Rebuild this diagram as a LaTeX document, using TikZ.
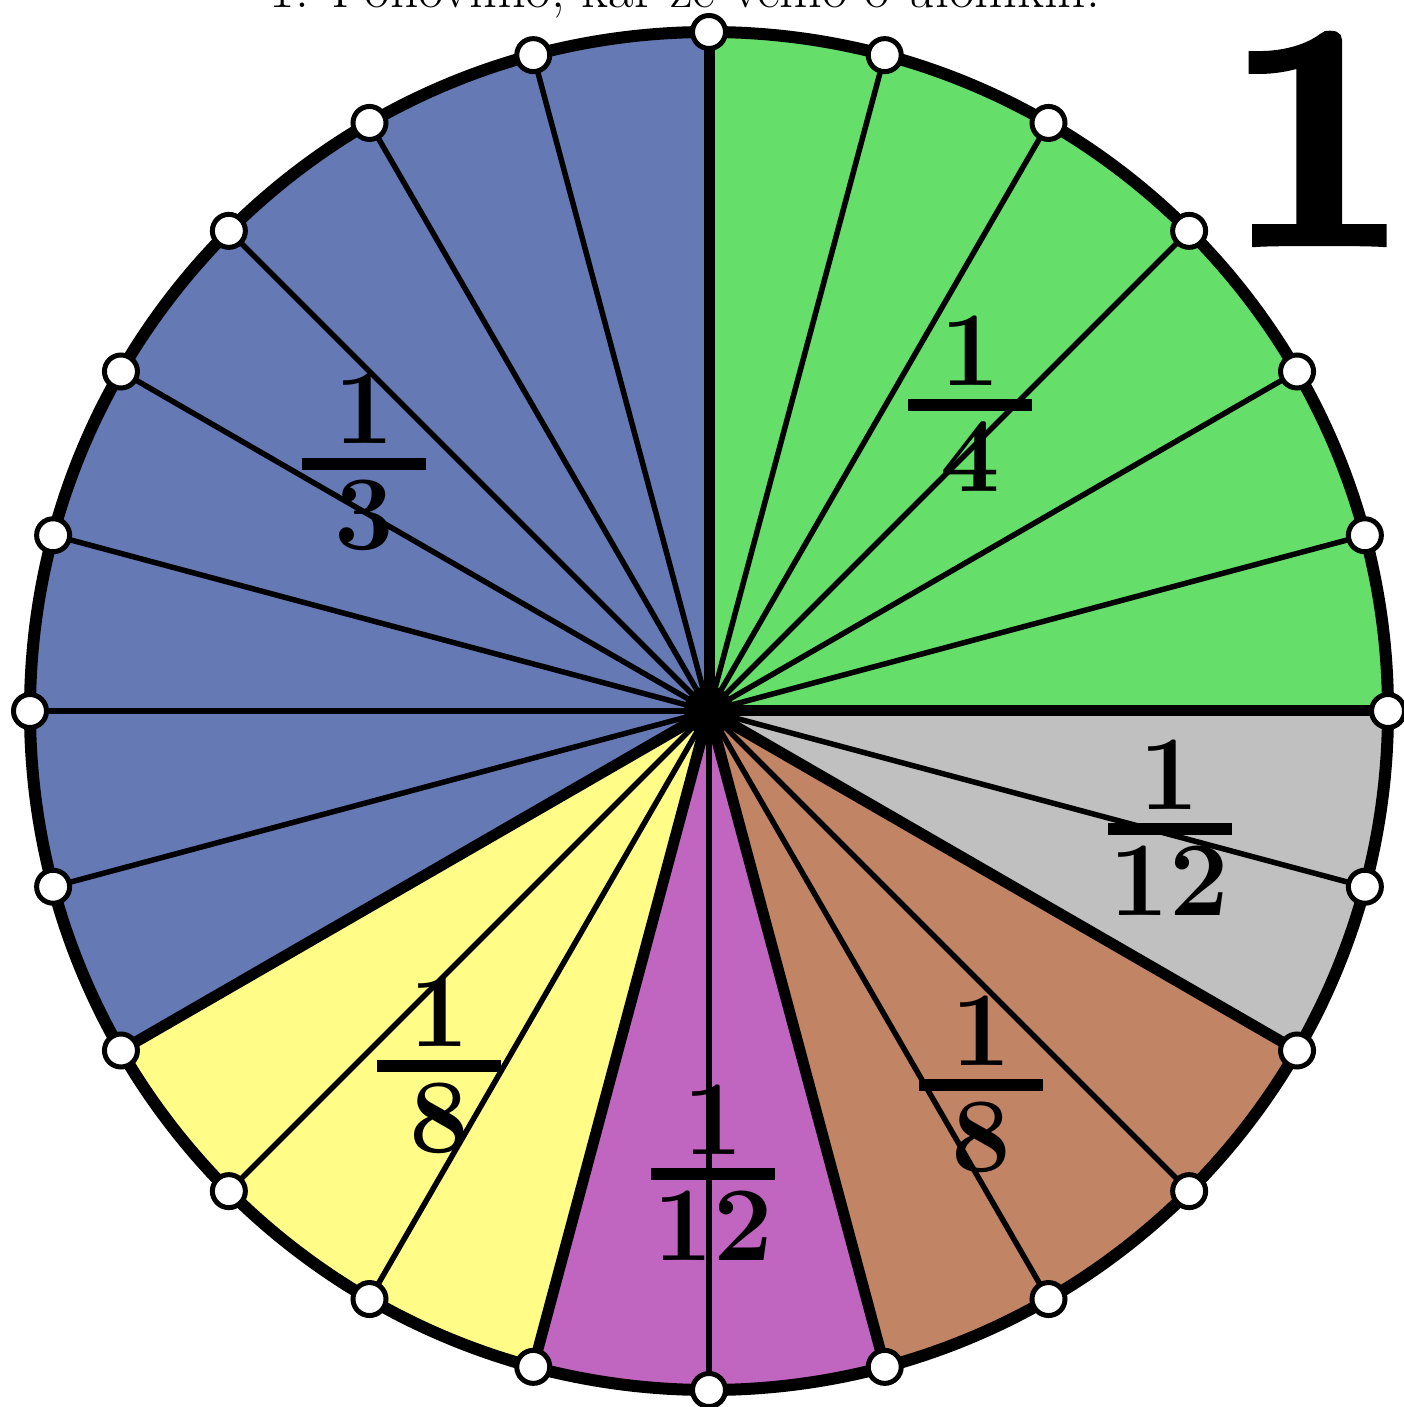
\documentclass[tikz,border=0pt]{standalone}
\usepackage{fontspec}
\newfontfamily\heavyone{lmroman10-bold.otf}[FakeBold=2.5]
\definecolor{cblue}{RGB}{101,121,180}
\definecolor{cgreen}{RGB}{102,222,106}
\definecolor{cgray}{RGB}{192,192,192}
\definecolor{cbrown}{RGB}{193,133,101}
\definecolor{cpurple}{RGB}{193,102,192}
\definecolor{cyellow}{RGB}{255,252,136}
\tikzset{
  thinray/.style={line width=2.75pt},
  thickray/.style={line width=5.5pt},
  rimdot/.style={circle, draw=black, fill=white, line width=2.5pt, minimum size=16.5pt, inner sep=0pt},
  fracdigit/.style={font=\fontsize{53}{53}\selectfont\bfseries, inner sep=0pt, anchor=base},
  fracbar/.style={fill=black, minimum width=62pt, minimum height=6pt, inner sep=0pt},
}
\newcommand\fracset[5]{%
  \node[fracbar] (#1bar) at (#2,#3) {};
  \node[fracdigit] (#1num) at (#2,{#3+20}) {#4};
  \node[fracdigit] (#1den) at (#2,{#3-86}) {#5};
}
\begin{document}
\begin{tikzpicture}[x=0.5pt,y=0.5pt]
\useasboundingbox (-709,-696) rectangle (694,711);
% sectors
\fill[cblue] (0,0) -- (90:679) arc[start angle=90, end angle=210, radius=679] -- cycle;
\fill[cgreen] (0,0) -- (0:679) arc[start angle=0, end angle=90, radius=679] -- cycle;
\fill[cgray] (0,0) -- (-30:679) arc[start angle=-30, end angle=0, radius=679] -- cycle;
\fill[cbrown] (0,0) -- (-75:679) arc[start angle=-75, end angle=-30, radius=679] -- cycle;
\fill[cpurple] (0,0) -- (-105:679) arc[start angle=-105, end angle=-75, radius=679] -- cycle;
\fill[cyellow] (0,0) -- (-150:679) arc[start angle=-150, end angle=-105, radius=679] -- cycle;
% points on the rim
\foreach \i in {0,...,23} \coordinate (p\i) at ({\i*15}:679);
\coordinate (o) at (0,0);
% rays
\foreach \i in {1,2,3,4,5,7,8,9,10,11,12,13,15,16,18,20,21,23}
  \draw[thinray] (o) -- (p\i);
\foreach \i in {0,6,14,17,19,22}
  \draw[thickray] (o) -- (p\i);
\node[circle, fill=black, minimum size=25pt, inner sep=0pt] (c) at (o) {};
% rim
\draw[line width=6pt] (o) circle[radius=679];
\foreach \i in {0,...,23} \node[rimdot] (d\i) at (p\i) {};
% fractions
\fracset{a}{-345}{247}{1}{3}
\fracset{b}{261}{305.5}{1}{4}
\fracset{g}{460.5}{-118}{1}{12}
\fracset{y}{-270}{-355}{1}{8}
\fracset{p}{4}{-463}{1}{12}
\fracset{r}{272}{-374}{1}{8}
% big one
\node[font=\fontsize{159}{159}\selectfont\heavyone, inner sep=0pt, anchor=base] (one) at (608,468) {1};
% title (cut off at top)
\node[inner sep=0pt, anchor=base] (title) at (-24,703) {\resizebox{415pt}{!}{\fontsize{26}{26}\selectfont 1. Ponovimo, kar že vemo o ulomkih.}};
\end{tikzpicture}
\end{document}
